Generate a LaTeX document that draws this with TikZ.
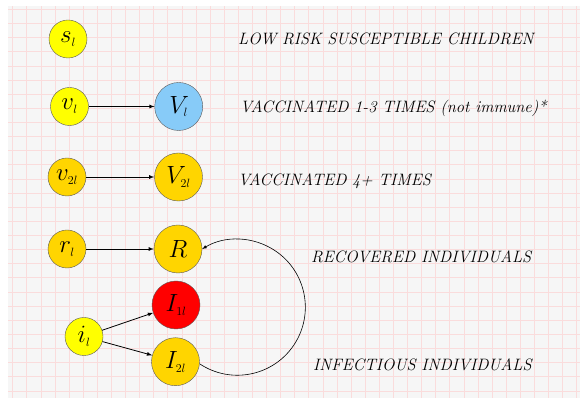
\documentclass[tikz,border=0pt]{standalone}
\usetikzlibrary{arrows}
\definecolor{paper}{HTML}{F6F6F6}
\definecolor{gridpink}{HTML}{FADCDC}
\definecolor{lowyellow}{HTML}{FFFF00}
\definecolor{gold}{HTML}{FFD500}
\definecolor{vacblue}{HTML}{87CBF8}
\definecolor{infred}{HTML}{FF0000}
\definecolor{rim}{HTML}{5A5A5A}
\newcommand{\sub}[1]{_{\scriptscriptstyle #1}}

\begin{document}
\begin{tikzpicture}[x=1pt,y=1pt,
compartment/.style={circle,draw=rim,inner sep=0pt},
small/.style={compartment,minimum size=38pt,font=\fontsize{25}{25}\selectfont},
big/.style={compartment,minimum size=48pt,font=\fontsize{26}{26}\selectfont},
flow/.style={-latex,line width=0.8pt},
caption/.style={anchor=base west,inner sep=0pt,font=\fontsize{16.5}{16.5}\selectfont\itshape}]
\useasboundingbox (0,0) rectangle (580,398);
% squared paper
\fill [paper] (8,0) rectangle (580,392);
\foreach \i in {0,...,40}
  \draw [gridpink,line width=0.8pt] ({12.7+14.1*\i},0) -- ({12.7+14.1*\i},392);
\foreach \j in {0,...,27}
  \draw [gridpink,line width=0.8pt] (8,{388.6-14.13*\j}) -- (580,{388.6-14.13*\j});

% compartments
\node (sl) [small,fill=lowyellow] at (68,359) {$s\sub{l}$};
\node (vl) [small,fill=lowyellow] at (69.5,291.5) {$v\sub{l}$};
\node (Vl) [big,fill=vacblue] at (178.7,291.5) {$V\sub{l}$};
\node (vtl) [small,fill=gold] at (67,221) {$v\sub{2l}$};
\node (Vtl) [big,fill=gold] at (178.5,221) {$V\sub{2l}$};
\node (rl) [small,fill=gold] at (67,149) {$r\sub{l}$};
\node (R) [big,fill=gold] at (178,149) {$R$};
\node (il) [small,fill=lowyellow] at (84,61.5) {$i\sub{l}$};
\node (Iol) [big,fill=infred] at (176,93) {$I\sub{1l}$};
\node (Itl) [big,fill=gold] at (175.5,36.3) {$I\sub{2l}$};

\draw [flow] (vl) -- (Vl);
\draw [flow] (vtl) -- (Vtl);
\draw [flow] (rl) -- (R);
\draw [flow] (il) -- (Iol);
\draw [flow] (il) -- (Itl);
% recovery loop back to R
\draw [-latex,line width=0.6pt] (Itl.-5) arc [start angle=-123.7,end angle=121.2,radius=68];

% captions
\node (tsl) [caption] at (238,353.7) {LOW RISK SUSCEPTIBLE CHILDREN};
\node (tvl) [caption] at (240,285.3) {VACCINATED 1-3 TIMES (not immune)*};
\node (tvtl) [caption] at (238,212) {VACCINATED 4+ TIMES};
\node (tR) [caption] at (311,135.7) {RECOVERED INDIVIDUALS};
\node (tI) [caption] at (313,27) {INFECTIOUS INDIVIDUALS};
\end{tikzpicture}
\end{document}
